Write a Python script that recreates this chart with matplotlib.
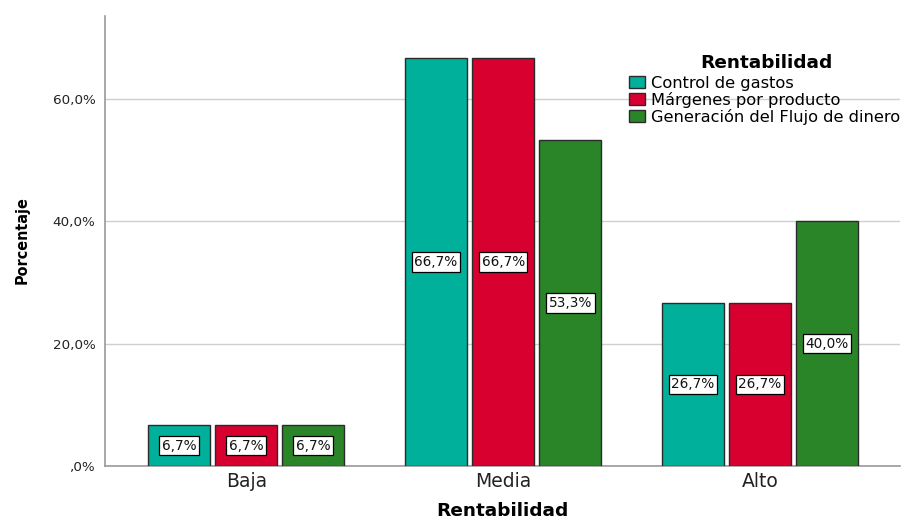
import numpy as np
import matplotlib
matplotlib.use('Agg')
import matplotlib.pyplot as plt
from matplotlib.ticker import FuncFormatter

# data
categories = ['Baja', 'Media', 'Alto']
series_names = ['Control de gastos', 'Márgenes por producto', 'Generación del Flujo de dinero']
control = [6.7, 66.7, 26.7]
margenes = [6.7, 66.7, 26.7]
flujo = [6.7, 53.3, 40.0]
yticks = [0, 20, 40, 60]

colors = ['#00b09b', '#d7002f', '#2a8529']

plt.rcParams['font.family'] = ['DejaVu Sans']

W, H = 904, 521
fig = plt.figure(figsize=(W / 100, H / 100), dpi=100)
ax = fig.add_axes([105 / W, 1 - 466 / H, (900 - 105) / W, (466 - 16) / H])

x = np.arange(len(categories))
width = 0.241
step = 0.261
for i, (vals, name, col) in enumerate(zip([control, margenes, flujo], series_names, colors)):
    pos = x + (i - 1) * step
    bars = ax.bar(pos, vals, width, color=col, edgecolor='#2b2b2b', linewidth=1.0,
                  label=name, zorder=3)
    for b, v in zip(bars, vals):
        ax.text(b.get_x() + b.get_width() / 2, v / 2, f"{v:.1f}%".replace('.', ','),
                ha='center', va='center', fontsize=9.8, zorder=4, color='#111111',
                bbox=dict(boxstyle='square,pad=0.2', fc='white', ec='black', lw=0.9))

ax.set_xlim(-0.55, 2.545)
ax.set_ylim(0, 73.6)
ax.set_yticks(yticks)
ax.yaxis.set_major_formatter(FuncFormatter(
    lambda v, p: ',0%' if v == 0 else f"{v:.1f}%".replace('.', ',')))
ax.set_xticks(x)
ax.set_xticklabels(categories, fontsize=13.5, color='#222222')
ax.tick_params(axis='y', labelsize=9.7, colors='#222222', length=0, pad=7)
ax.tick_params(axis='x', length=0, pad=4)
ax.grid(axis='y', color='#cfcfcf', linewidth=1, zorder=0)
for s in ['top', 'right']:
    ax.spines[s].set_visible(False)
for s in ['left', 'bottom']:
    ax.spines[s].set_color('#9a9a9a')
    ax.spines[s].set_linewidth(1.2)

fig.text(502 / W, 1 - 511 / H, 'Rentabilidad', ha='center', va='center',
         fontsize=13.3, fontweight='bold')
fig.text(22 / W, 1 - 240 / H, 'Porcentaje', ha='center', va='center', rotation=90,
         fontsize=11.5, fontweight='bold', fontstretch='condensed')

fig.text(766 / W, 1 - 63 / H, 'Rentabilidad', ha='center', va='center',
         fontsize=13.3, fontweight='bold')
leg = fig.legend(loc='upper left', bbox_to_anchor=(629 / W, 1 - 76 / H), frameon=False,
                 fontsize=11.7, handlelength=1.0, handleheight=0.78, handletextpad=0.35,
                 labelspacing=0.06, borderaxespad=0, borderpad=0)
for p in leg.get_patches():
    p.set_edgecolor('#2b2b2b')

fig.savefig('out.png', dpi=100)
